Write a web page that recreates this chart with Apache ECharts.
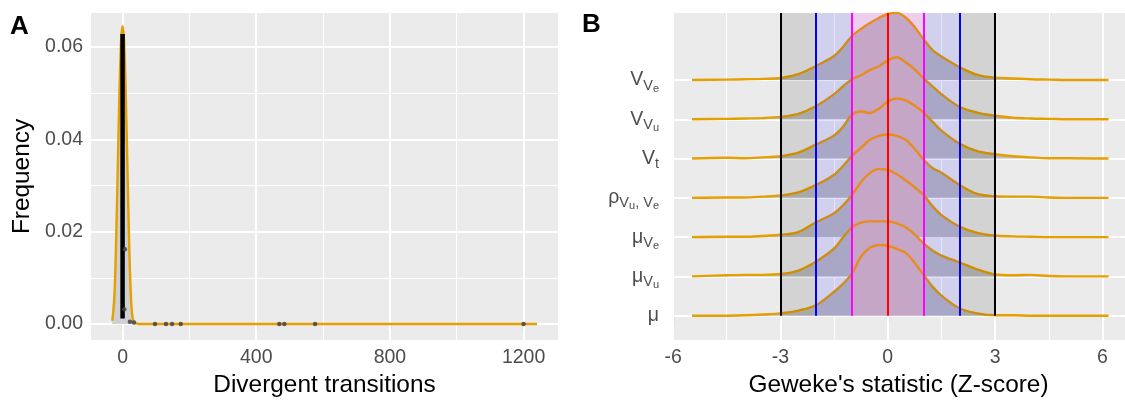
<!DOCTYPE html>
<html>
<head>
<meta charset="utf-8">
<script src="https://cdn.jsdelivr.net/npm/echarts@6.0.0/dist/echarts.min.js"></script>
<style>
  html, body { margin: 0; padding: 0; background: #fff; }
  #chart { width: 1125px; height: 403px; }
</style>
</head>
<body>
<div id="chart"></div>
<script>
// ---- panel A : divergent transitions ----
const divTicks = [0, 400, 800, 1200];
const divMinor = [200, 600, 1000];
const freqTicks = [0, 0.02, 0.04, 0.06];
const freqMinor = [0.01, 0.03, 0.05];
const densX = [-31, -28, -24, -20, -16, -12, -8, -4, 0, 4, 8, 12, 16, 20, 24, 28, 32, 38, 50, 100, 300, 600, 900, 1240];
const densY = [0.0007, 0.0025, 0.0068, 0.016, 0.0285, 0.042, 0.054, 0.062, 0.0645, 0.062, 0.054, 0.042, 0.029, 0.0165, 0.0075, 0.0025, 0.0008, 0.0002, 0, 0, 0, 0, 0, 0];
const zeroStackY = [0.0012, 0.0628];
const divPointsX = [7, 5, 22, 34, 97, 130, 148, 174, 469, 484, 576, 1200];
const divPointsY = [0.0162, 0.0032, 0.0005, 0.0003, 0, 0, 0, 0, 0, 0, 0, 0];

// ---- panel B : Geweke ridges (heights above each baseline, in row units) ----
const gewekeTicks = [-6, -3, 0, 3, 6];
const gewekeMinor = [-4.5, -1.5, 1.5, 4.5];
const zLevels = [1, 2, 3];
const gewekeX = [-5.47, -4.5, -4, -3.5, -3, -2.5, -2, -1.5, -1.25, -1, -0.75, -0.5, -0.25, 0, 0.25, 0.5, 0.75, 1, 1.25, 1.5, 2, 2.5, 3, 3.5, 4, 4.5, 5, 6.17];
const hMu   = [0, 0, 0.01, 0.03, 0.06, 0.13, 0.27, 0.61, 0.81, 1.07, 1.50, 1.73, 1.80, 1.78, 1.70, 1.60, 1.35, 1.04, 0.74, 0.51, 0.19, 0.06, 0.01, 0.01, 0, 0, 0, 0];
const hMuVu = [0, 0.03, 0.04, 0.04, 0.06, 0.15, 0.38, 0.71, 0.99, 1.25, 1.37, 1.40, 1.40, 1.40, 1.35, 1.25, 1.07, 0.84, 0.66, 0.53, 0.36, 0.18, 0.05, 0.03, 0.04, 0.01, 0, 0];
const hMuVe = [0, 0.01, 0.01, 0.03, 0.06, 0.13, 0.38, 0.61, 0.81, 1.07, 1.40, 1.63, 1.73, 1.71, 1.60, 1.45, 1.27, 1.07, 0.79, 0.56, 0.27, 0.11, 0.04, 0.02, 0.01, 0, 0, 0];
const hRho  = [0, 0.01, 0.01, 0.03, 0.06, 0.14, 0.33, 0.59, 0.81, 1.07, 1.27, 1.48, 1.58, 1.62, 1.58, 1.48, 1.25, 0.97, 0.76, 0.64, 0.33, 0.10, 0.04, 0.03, 0.03, 0.01, 0, 0];
const hVt   = [0, 0.02, 0.01, 0.03, 0.06, 0.15, 0.36, 0.59, 0.81, 1.12, 1.20, 1.16, 1.27, 1.45, 1.53, 1.48, 1.35, 1.17, 0.94, 0.71, 0.38, 0.19, 0.11, 0.06, 0.03, 0.01, 0.01, 0];
const hVVu  = [0, 0.01, 0.02, 0.03, 0.06, 0.14, 0.34, 0.64, 0.84, 1.02, 1.12, 1.25, 1.35, 1.50, 1.58, 1.45, 1.27, 1.04, 0.84, 0.64, 0.32, 0.17, 0.09, 0.04, 0.02, 0.01, 0, 0];
const hVVe  = [0, 0.01, 0.02, 0.03, 0.05, 0.15, 0.36, 0.61, 0.84, 1.12, 1.30, 1.45, 1.58, 1.68, 1.71, 1.59, 1.35, 1.04, 0.76, 0.60, 0.33, 0.13, 0.06, 0.04, 0.02, 0.01, 0, 0];
const ridgeLabels = [
  '{b|μ}',
  '{b|μ}{s1|V}{s2|u}',
  '{b|μ}{s1|V}{s2|e}',
  '{b|ρ}{s1|V}{s2|u}{s1|, V}{s2|e}',
  '{b|V}{s1|t}',
  '{b|V}{s1|V}{s2|u}',
  '{b|V}{s1|V}{s2|e}'
];
const ridgeHeights = [hMu, hMuVu, hMuVe, hRho, hVt, hVVu, hVVe];

const FONT = 'Liberation Sans, Arial, sans-serif';
const GREY = '#4D4D4D';
const ORANGE = '#E69F00';
const yMinB = 0.381, yMaxB = 8.706;

const chart = echarts.init(document.getElementById('chart'));

function axisBits(values, fmt) {
  return {
    axisLine: { show: false },
    splitLine: { show: false },
    axisTick: { show: true, customValues: values, length: 6, lineStyle: { color: '#333', width: 1.1 } },
    axisLabel: { customValues: values, formatter: fmt, color: GREY, fontSize: 19.5, fontFamily: FONT }
  };
}

const whiteMajor = { color: '#fff', width: 2, type: 'solid' };
const whiteMinor = { color: '#fff', width: 1, type: 'solid' };
const noMark = { symbol: ['none', 'none'], silent: true, label: { show: false }, animation: false };

const series = [];

// panel A gridlines (markLine z kept under the data)
series.push({
  type: 'line', xAxisIndex: 0, yAxisIndex: 0, data: [], z: 1,
  markLine: Object.assign({}, noMark, {
    z: 1,
    data: [
      ...divMinor.map(v => ({ xAxis: v, lineStyle: whiteMinor })),
      ...freqMinor.map(v => ({ yAxis: v, lineStyle: whiteMinor })),
      ...divTicks.map(v => ({ xAxis: v, lineStyle: whiteMajor })),
      ...freqTicks.map(v => ({ yAxis: v, lineStyle: whiteMajor }))
    ]
  })
});
// density
series.push({
  type: 'line', xAxisIndex: 0, yAxisIndex: 0, z: 2, smooth: 0.3, symbol: 'none',
  data: densX.map((x, i) => [x, densY[i]]),
  lineStyle: { color: ORANGE, width: 2.4 },
  areaStyle: { color: '#D0D0D0', opacity: 1 }
});
// stack of zero-divergence chains
series.push({
  type: 'line', xAxisIndex: 0, yAxisIndex: 0, z: 3, symbol: 'none',
  data: zeroStackY.map(y => [0, y]),
  lineStyle: { color: '#000', width: 4.5 }
});
series.push({
  type: 'scatter', xAxisIndex: 0, yAxisIndex: 0, z: 4, symbolSize: 4.5,
  data: divPointsX.map((x, i) => [x, divPointsY[i]]),
  itemStyle: { color: '#444', opacity: 0.85 }
});

// panel B gridlines
series.push({
  type: 'line', xAxisIndex: 1, yAxisIndex: 1, data: [], z: 1,
  markLine: Object.assign({}, noMark, {
    z: 1,
    data: [
      ...gewekeMinor.map(v => ({ xAxis: v, lineStyle: whiteMinor })),
      ...gewekeTicks.map(v => ({ xAxis: v, lineStyle: whiteMajor })),
      ...ridgeLabels.map((_, i) => ({ yAxis: i + 1, lineStyle: whiteMajor }))
    ]
  })
});

// each ridge gets a hidden y axis shifted so that its baseline is 0
const ridgeAxes = ridgeHeights.map((_, i) => ({
  type: 'value', gridIndex: 1, show: false, min: yMinB - (i + 1), max: yMaxB - (i + 1)
}));
// ridges, top row first so lower rows cover it
for (let i = ridgeHeights.length - 1; i >= 0; i--) {
  series.push({
    type: 'line', xAxisIndex: 1, yAxisIndex: 2 + i, z: 2, symbol: 'none', smooth: 0.35,
    data: gewekeX.map((x, j) => [x, ridgeHeights[i][j]]),
    lineStyle: { color: ORANGE, width: 2.4 },
    areaStyle: { color: '#BDBDBF', opacity: 1 }
  });
}

// shaded z-score bands, drawn over the ridges
const bandColors = ['rgba(255,0,255,0.12)', 'rgba(0,0,255,0.11)', 'rgba(0,0,0,0.1)'];
const bandData = [[-zLevels[0], zLevels[0], 0]];
for (let k = 1; k < zLevels.length; k++) {
  bandData.push([-zLevels[k], -zLevels[k - 1], k]);
  bandData.push([zLevels[k - 1], zLevels[k], k]);
}
series.push({
  type: 'custom', xAxisIndex: 1, yAxisIndex: 1, z: 3, silent: true,
  data: bandData,
  renderItem: (params, api) => {
    const p0 = api.coord([api.value(0), yMaxB]);
    const p1 = api.coord([api.value(1), 1]);
    return {
      type: 'rect',
      shape: { x: p0[0], y: p0[1], width: p1[0] - p0[0], height: p1[1] - p0[1] },
      style: { fill: bandColors[api.value(2)] }
    };
  }
});
// threshold lines
const lineColors = ['#FF00FF', '#0000FF', '#000000'];
const vlines = [[{ coord: [0, 1], lineStyle: { color: '#FF0000', width: 2, type: 'solid' } }, { coord: [0, yMaxB] }]];
zLevels.forEach((z, k) => {
  [-z, z].forEach(v => vlines.push([{ coord: [v, 1], lineStyle: { color: lineColors[k], width: 2, type: 'solid' } }, { coord: [v, yMaxB] }]));
});
series.push({
  type: 'line', xAxisIndex: 1, yAxisIndex: 1, data: [], z: 4,
  markLine: Object.assign({}, noMark, { z: 6, data: vlines })
});

const subColor = { color: GREY, fontFamily: FONT };

chart.setOption({
  animation: false,
  backgroundColor: '#fff',
  grid: [
    { left: 91, right: 567, top: 13, bottom: 63, show: true, backgroundColor: '#EBEBEB', borderWidth: 0 },
    { left: 672, right: 0, top: 13, bottom: 63, show: true, backgroundColor: '#EBEBEB', borderWidth: 0 }
  ],
  xAxis: [
    Object.assign({
      type: 'value', gridIndex: 0, min: -94.5, max: 1303,
      name: 'Divergent transitions', nameLocation: 'middle', nameGap: 33,
      nameTextStyle: { fontSize: 24.4, color: '#000', fontFamily: FONT }
    }, axisBits(divTicks, v => String(v))),
    Object.assign({
      type: 'value', gridIndex: 1, min: -6.03, max: 6.63,
      name: "Geweke's statistic (Z-score)", nameLocation: 'middle', nameGap: 33,
      nameTextStyle: { fontSize: 24.4, color: '#000', fontFamily: FONT }
    }, axisBits(gewekeTicks, v => String(v)))
  ],
  yAxis: [
    Object.assign({
      type: 'value', gridIndex: 0, min: -0.00347, max: 0.06736,
      name: 'Frequency', nameLocation: 'middle', nameGap: 57, nameRotate: 90,
      nameTextStyle: { fontSize: 24.4, color: '#000', fontFamily: FONT }
    }, axisBits(freqTicks, v => v.toFixed(2))),
    (function () {
      const ax = Object.assign({ type: 'value', gridIndex: 1, min: yMinB, max: yMaxB },
        axisBits(ridgeLabels.map((_, i) => i + 1), v => ridgeLabels[Math.round(v) - 1]));
      ax.axisLabel.margin = 13;
      ax.axisLabel.rich = {
        b: Object.assign({ fontSize: 19.5 }, subColor),
        s1: Object.assign({ fontSize: 14.5, padding: [11, 0, 0, 0] }, subColor),
        s2: Object.assign({ fontSize: 11, padding: [17, 0, 0, 0] }, subColor)
      };
      return ax;
    })(),
    ...ridgeAxes
  ],
  graphic: [
    { type: 'text', left: 10, top: 14, style: { text: 'A', font: 'bold 26px ' + FONT, fill: '#000' } },
    { type: 'text', left: 582, top: 12, style: { text: 'B', font: 'bold 26px ' + FONT, fill: '#000' } }
  ],
  series
});
</script>
</body>
</html>
